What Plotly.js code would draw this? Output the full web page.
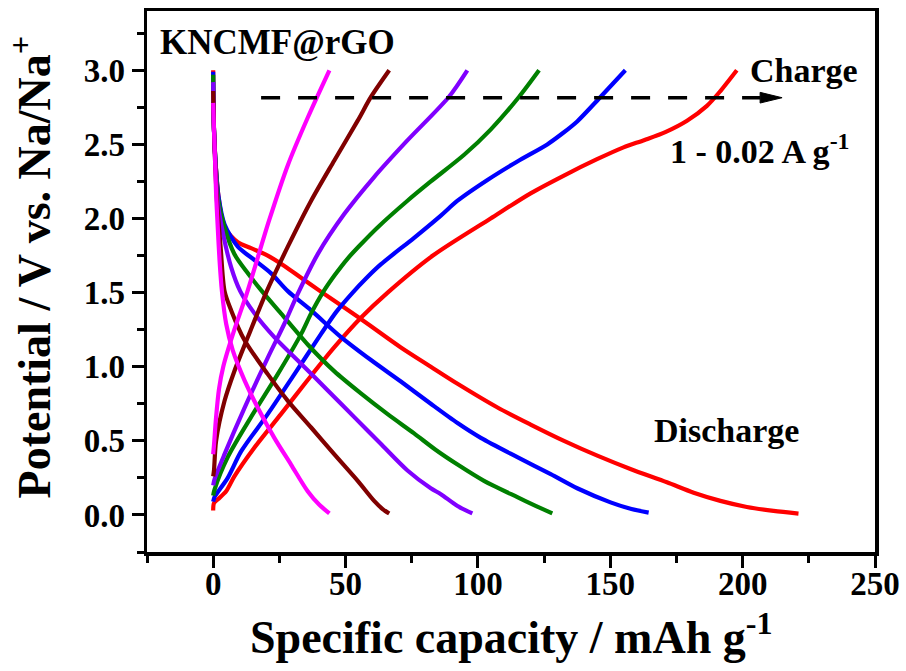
<!DOCTYPE html>
<html>
<head>
<meta charset="utf-8">
<script src="https://cdn.plot.ly/plotly-3.0.1.min.js"></script>
<style>html,body{margin:0;padding:0;background:#fff;}#chart{width:906px;height:671px;}</style>
</head>
<body>
<div id="chart"></div>
<script>
// Series: 6 current densities (1 -> 0.02 A/g), discharge and charge curves
const seriesNames = ["1 A g-1", "0.5 A g-1", "0.2 A g-1", "0.1 A g-1", "0.05 A g-1", "0.02 A g-1"];
const seriesColors = ["#FF00FF", "#800000", "#8000FF", "#008000", "#0000FF", "#FF0000"];

// magenta
const dis1X = [0, 0.3, 0.7, 1.1, 1.7, 2.4, 3.3, 4.9, 7.4, 11.8, 16.8, 23.1, 29.4, 35.7, 40, 43.9];
const dis1V = [2.78, 2.6, 2.4, 2.17, 1.95, 1.72, 1.51, 1.29, 1.11, 0.91, 0.725, 0.52, 0.34, 0.16, 0.07, 0.01];
const chg1X = [0, 0.3, 1.1, 2.2, 3.8, 8.0, 12.8, 21.0, 28.2, 35.7, 43.9];
const chg1V = [0.41, 0.47, 0.66, 0.85, 1.0, 1.25, 1.5, 1.98, 2.36, 2.68, 3.0];
// maroon
const dis2X = [0, 0.3, 0.8, 1.5, 2.8, 4.3, 6.8, 11.8, 20.6, 28.2, 37, 45.7, 54.6, 60.8, 64, 66.5];
const dis2V = [2.86, 2.6, 2.35, 2.1, 1.81, 1.51, 1.38, 1.18, 0.95, 0.77, 0.59, 0.41, 0.23, 0.095, 0.04, 0.01];
const chg2X = [0, 0.3, 1.1, 4.3, 8.0, 13.1, 20, 28.2, 37, 45.7, 54.6, 59.6, 66.5];
const chg2V = [0.26, 0.3, 0.5, 0.77, 0.97, 1.2, 1.5, 1.81, 2.12, 2.39, 2.66, 2.82, 3.0];
// purple
const dis3X = [0, 0.3, 0.9, 1.8, 3.7, 6.8, 10.2, 15.6, 23.1, 33.2, 43.3, 53.3, 63.3, 73.4, 82.2, 86, 92.3, 97.9];
const dis3V = [2.92, 2.6, 2.35, 2.1, 1.90, 1.67, 1.51, 1.36, 1.20, 1.02, 0.84, 0.66, 0.48, 0.30, 0.18, 0.14, 0.06, 0.01];
const chg3X = [0, 0.5, 4.3, 11.8, 20.6, 26.9, 31.9, 39.5, 49.5, 60.8, 73, 89, 96];
const chg3V = [0.2, 0.24, 0.41, 0.72, 1.06, 1.29, 1.49, 1.76, 2.03, 2.28, 2.52, 2.82, 3.0];
// green
const dis4X = [0, 0.3, 1, 2, 4.3, 8.0, 13.1, 18.4, 25.6, 35.7, 45.7, 55.8, 65.9, 75.9, 84, 92.3, 102.3, 114.9, 122, 128.1];
const dis4V = [2.97, 2.6, 2.35, 2.12, 1.94, 1.76, 1.63, 1.51, 1.36, 1.15, 0.97, 0.82, 0.68, 0.55, 0.44, 0.34, 0.23, 0.12, 0.06, 0.01];
const chg4X = [0, 0.5, 5.5, 14.3, 24.4, 33.2, 37, 41.4, 46, 50.8, 56, 62.1, 73.4, 82.2, 94.8, 104.8, 115.5, 123.1];
const chg4V = [0.13, 0.17, 0.39, 0.66, 0.95, 1.22, 1.36, 1.5, 1.62, 1.73, 1.83, 1.94, 2.12, 2.25, 2.43, 2.6, 2.82, 3.0];
// blue
const dis5X = [0, 0.3, 1, 2, 4.3, 9.3, 15.6, 21.9, 28.2, 37, 48.3, 59.6, 70.9, 82.2, 92.3, 101.1, 114.9, 127.5, 137.5, 150.1, 158, 164.5];
const dis5V = [2.99, 2.6, 2.35, 2.15, 1.96, 1.81, 1.72, 1.63, 1.51, 1.38, 1.20, 1.045, 0.9, 0.75, 0.62, 0.52, 0.39, 0.275, 0.18, 0.085, 0.04, 0.016];
const chg5X = [0, 0.5, 5.5, 10.6, 20.6, 30.7, 40.7, 46.5, 52.7, 58, 63.3, 75.9, 86, 92.3, 103.6, 114.9, 126.2, 132, 137.5, 146.3, 155.7];
const chg5V = [0.09, 0.12, 0.25, 0.43, 0.68, 0.95, 1.22, 1.37, 1.50, 1.60, 1.69, 1.87, 2.02, 2.12, 2.26, 2.385, 2.50, 2.575, 2.655, 2.82, 3.0];
// red
const dis6X = [0, 0.3, 1, 2, 4.3, 9.3, 14.3, 20.6, 26.9, 33.2, 40.4, 49.5, 58.3, 70.9, 82.2, 92.3, 107.4, 119.9, 132.5, 145.1, 157.6, 171.4, 181.5, 191.6, 201.6, 211.7, 221.1];
const dis6V = [3.0, 2.6, 2.35, 2.15, 1.94, 1.84, 1.80, 1.75, 1.68, 1.60, 1.51, 1.40, 1.29, 1.13, 1.0, 0.885, 0.725, 0.61, 0.50, 0.40, 0.31, 0.22, 0.15, 0.095, 0.054, 0.027, 0.009];
const chg6X = [0, 0.3, 1.8, 4.9, 8.0, 15.6, 25.6, 35.7, 45.7, 55.8, 65.9, 83, 104.8, 119.9, 132.5, 145, 155, 163, 171, 179, 186.5, 191.6, 197.8];
const chg6V = [0.03, 0.08, 0.106, 0.16, 0.26, 0.455, 0.68, 0.91, 1.13, 1.33, 1.5, 1.75, 2.0, 2.17, 2.29, 2.40, 2.48, 2.53, 2.585, 2.66, 2.76, 2.86, 3.0];

const xTickVals = [0, 50, 100, 150, 200, 250];
const yTickVals = [0, 0.5, 1.0, 1.5, 2.0, 2.5, 3.0];

const disX = [dis1X, dis2X, dis3X, dis4X, dis5X, dis6X];
const disV = [dis1V, dis2V, dis3V, dis4V, dis5V, dis6V];
const chgX = [chg1X, chg2X, chg3X, chg4X, chg5X, chg6X];
const chgV = [chg1V, chg2V, chg3V, chg4V, chg5V, chg6V];

const traces = [];
for (let i = 5; i >= 0; i--) {
  traces.push({x: disX[i], y: disV[i], mode: 'lines', name: seriesNames[i] + ' discharge',
    line: {color: seriesColors[i], width: 4.2, shape: 'spline', smoothing: 0.8}, showlegend: false, hoverinfo: 'skip'});
  traces.push({x: chgX[i], y: chgV[i], mode: 'lines', name: seriesNames[i] + ' charge',
    line: {color: seriesColors[i], width: 4.2, shape: 'spline', smoothing: 0.8}, showlegend: false, hoverinfo: 'skip'});
}

const FONT = 'Liberation Serif, Times New Roman, serif';
const tickFont = {family: FONT, size: 33, color: '#000', weight: 700};
const annFont = {family: FONT, size: 34, color: '#000', weight: 700};
const titleFont = {family: FONT, size: 46, color: '#000', weight: 700};

const arrowY = 2.815, arrowBase = 206.6, arrowTip = 214.9;

const layout = {
  width: 906, height: 671,
  margin: {l: 147, r: 31, t: 11, b: 119},
  paper_bgcolor: '#fff', plot_bgcolor: '#fff',
  showlegend: false,
  xaxis: {
    range: [-25, 250], tickvals: xTickVals, ticktext: xTickVals.map(String),
    showgrid: false, zeroline: false,
    showline: true, linecolor: '#000', linewidth: 3.5, mirror: true,
    ticks: 'outside', ticklen: 12, tickwidth: 3, tickcolor: '#000',
    minor: {dtick: 25, tick0: 0, ticks: 'outside', ticklen: 7, tickwidth: 3, tickcolor: '#000', showgrid: false},
    tickfont: tickFont, ticklabelstandoff: -12,
    automargin: false
  },
  yaxis: {
    range: [-0.25, 3.4], tickvals: yTickVals, ticktext: yTickVals.map(v => v.toFixed(1)),
    showgrid: false, zeroline: false,
    showline: true, linecolor: '#000', linewidth: 3.5, mirror: true,
    ticks: 'outside', ticklen: 12, tickwidth: 3, tickcolor: '#000',
    minor: {dtick: 0.25, tick0: 0, ticks: 'outside', ticklen: 7, tickwidth: 3, tickcolor: '#000', showgrid: false},
    tickfont: tickFont,
    automargin: false
  },
  xaxis2: {
    overlaying: 'x', side: 'top', anchor: 'y', range: [-25, 250], dtick: 25, tick0: 0,
    ticks: 'inside', ticklen: 5, tickwidth: 2, tickcolor: '#000',
    showticklabels: false, showgrid: false, zeroline: false, showline: false
  },
  yaxis2: {
    overlaying: 'y', side: 'right', anchor: 'x', range: [-0.25, 3.4], dtick: 0.25, tick0: 0,
    ticks: 'outside', ticklen: 4, tickwidth: 2, tickcolor: '#000',
    showticklabels: false, showgrid: false, zeroline: false, showline: false
  },
  shapes: [
    {type: 'line', xref: 'x', yref: 'y', x0: 18.1, x1: arrowBase, y0: arrowY, y1: arrowY,
     line: {color: '#000', width: 3.5, dash: '19px,18px'}},
    {type: 'path', xref: 'x', yref: 'y',
     path: `M ${arrowBase},${arrowY + 0.036} L ${arrowTip},${arrowY} L ${arrowBase},${arrowY - 0.036} Z`,
     fillcolor: '#000', line: {color: '#000', width: 1}}
  ],
  annotations: [
    {x: -20.7, y: 3.19, xref: 'x', yref: 'y', xanchor: 'left', yanchor: 'middle', showarrow: false,
     text: 'KNCMF@rGO', font: {family: FONT, size: 35, color: '#000', weight: 700}},
    {x: 202.1, y: 3.0, xref: 'x', yref: 'y', xanchor: 'left', yanchor: 'middle', showarrow: false,
     text: 'Charge', font: annFont},
    {x: 171.9, y: 2.47, xref: 'x', yref: 'y', xanchor: 'left', yanchor: 'middle', showarrow: false,
     text: '1 - 0.02 A g<sup>-1</sup>', font: annFont},
    {x: 165.8, y: 0.57, xref: 'x', yref: 'y', xanchor: 'left', yanchor: 'middle', showarrow: false,
     text: 'Discharge', font: annFont},
    {x: 0.5, y: -0.152, xref: 'paper', yref: 'paper', xanchor: 'center', yanchor: 'middle', showarrow: false,
     text: 'Specific capacity / mAh g<sup>-1</sup>', font: titleFont},
    {x: -0.16, y: 0.527, xref: 'paper', yref: 'paper', xanchor: 'center', yanchor: 'middle', showarrow: false,
     textangle: -90, text: 'Potential / V vs. Na/Na<sup>+</sup>', font: titleFont}
  ]
};

Plotly.newPlot('chart', traces, layout, {staticPlot: true, displayModeBar: false});
</script>
</body>
</html>
